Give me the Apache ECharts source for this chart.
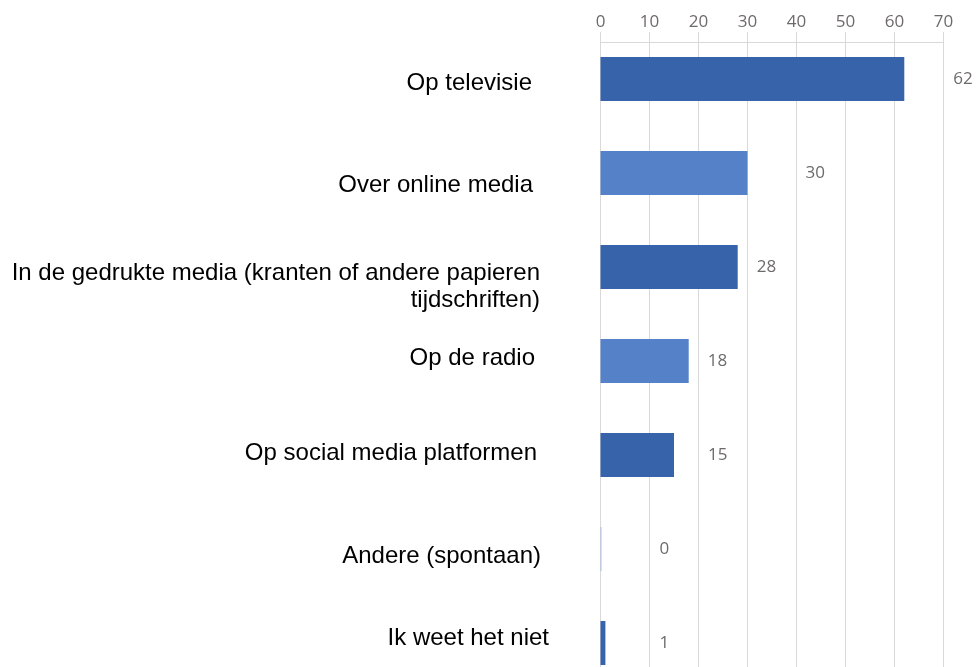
<!DOCTYPE html>
<html><head><meta charset="utf-8">
<script src="https://cdn.jsdelivr.net/npm/echarts@6/dist/echarts.min.js"></script>
<style>html,body{margin:0;padding:0;background:#fff}#c{width:978px;height:667px}</style>
</head><body><div id="c"></div>
<script>
const categories = [
  "Op televisie",
  "Over online media",
  "In de gedrukte media (kranten of andere papieren\ntijdschriften)",
  "Op de radio",
  "Op social media platformen",
  "Andere (spontaan)",
  "Ik weet het niet"
];
const values = [62, 30, 28, 18, 15, 0, 1];
const tickValues = [0, 10, 20, 30, 40, 50, 60, 70];

// styling helpers (pixels)
const barColors = ["#3763AB", "#5581C9", "#3763AB", "#5581C9", "#3763AB", "#A9C0E8", "#3763AB"];
const labelShift = [49, 58, 19, 19, 34, 58, 54];
const catRightPad = [17, 16, 9, 14, 12, 8, 0];
const catShiftY = [4, 12, 20, -3, -2, 7, -5];

const rich = {};
categories.forEach((c, i) => {
  rich['r' + i] = {fontSize: 24, lineHeight: 27, color: '#000', fontFamily: 'Liberation Sans', padding: [0, catRightPad[i], 0, 0], align: 'right'};
  rich['s' + i] = {fontSize: 2, lineHeight: Math.max(1, Math.abs(catShiftY[i]) * 2), align: 'right'};
});

const chart = echarts.init(document.getElementById('c'), null, {renderer: 'canvas'});
chart.setOption({
  animation: false,
  grid: {left: 600.5, right: 34.5, top: 32, bottom: -23, containLabel: false, outerBoundsMode: 'none'},
  xAxis: {
    type: 'value', position: 'top', min: 0, max: 70, interval: 10, offset: -10,
    axisLine: {show: true, lineStyle: {color: '#D9D9D9', width: 1}},
    axisTick: {show: true, length: 5, lineStyle: {color: '#D9D9D9'}},
    axisLabel: {color: '#6E6A6A', fontSize: 17, fontFamily: 'Open Sans', margin: 11},
    splitLine: {show: true, lineStyle: {color: '#D9D9D9', width: 1}}
  },
  yAxis: {
    type: 'category', inverse: true, data: categories,
    axisLine: {show: false}, axisTick: {show: false},
    axisLabel: {
      margin: 51.5, align: 'right',
      formatter: function (val, idx) {
        const body = val.split('\n').map(l => '{r' + idx + '|' + l + '}').join('\n');
        const sp = '{s' + idx + '| }';
        return catShiftY[idx] >= 0 ? sp + '\n' + body : body + '\n' + sp;
      },
      rich: rich
    }
  },
  series: [{
    type: 'bar', barWidth: 44, barMinHeight: 1,
    data: values.map((v, i) => ({
      value: v,
      itemStyle: {color: barColors[i]},
      label: {offset: [labelShift[i], 0]}
    })),
    label: {show: true, position: 'right', distance: 0, color: '#6E6A6A', fontSize: 17, fontFamily: 'Open Sans'}
  }]
});
</script></body></html>
